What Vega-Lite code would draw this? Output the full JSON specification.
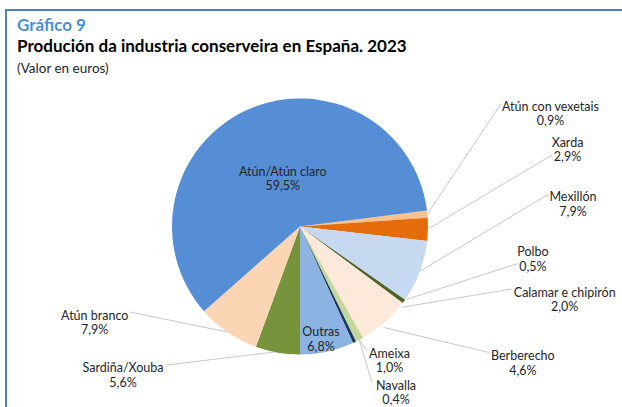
{
  "$schema": "https://vega.github.io/schema/vega-lite/v6.json",
  "autosize": {"type": "fit", "contains": "padding"},
  "width": 622,
  "height": 407,
  "padding": {"left": 6, "top": 10, "right": -2, "bottom": -2},
  "background": "white",
  "title": {
    "text": "Gráfico 9",
    "subtitle": "Produción da industria conserveira en España. 2023",
    "anchor": "start",
    "frame": "group",
    "orient": "top",
    "offset": -46,
    "dx": 11,
    "font": "Lato",
    "fontSize": 17,
    "fontWeight": "bold",
    "color": "#4a8fd6",
    "subtitleFont": "Lato",
    "subtitleFontSize": 17,
    "subtitleFontWeight": "bold",
    "subtitleColor": "#000000",
    "subtitlePadding": 4
  },
  "datasets": {
    "slices": [
      {"cat": "Atún con vexetais", "pct": 0.9, "i": 1},
      {"cat": "Xarda", "pct": 2.9, "i": 2},
      {"cat": "Mexillón", "pct": 7.9, "i": 3},
      {"cat": "Polbo", "pct": 0.5, "i": 4},
      {"cat": "Calamar e chipirón", "pct": 2.0, "i": 5},
      {"cat": "Berberecho", "pct": 4.6, "i": 6},
      {"cat": "Ameixa", "pct": 1.0, "i": 7},
      {"cat": "Navalla", "pct": 0.4, "i": 8},
      {"cat": "Outras", "pct": 6.8, "i": 9},
      {"cat": "Sardiña/Xouba", "pct": 5.6, "i": 10},
      {"cat": "Atún branco", "pct": 7.9, "i": 11},
      {"cat": "Atún/Atún claro", "pct": 59.5, "i": 12}
    ],
    "labels": [
      {"txt": "Atún/Atún claro\n59,5%", "lx": -13.5, "ly": 42.6},
      {"txt": "Outras\n6,8%", "lx": 16.4, "ly": -82.8},
      {"txt": "Ameixa\n1,0%", "lx": 69.9, "ly": -99.5},
      {"txt": "Navalla\n0,4%", "lx": 75.0, "ly": -124.6},
      {"txt": "Atún con vexetais\n0,9%", "lx": 195.7, "ly": 93.5},
      {"txt": "Xarda\n2,9%", "lx": 209.0, "ly": 65.6},
      {"txt": "Mexillón\n7,9%", "lx": 213.3, "ly": 22.7},
      {"txt": "Polbo\n0,5%", "lx": 182.0, "ly": -20.3},
      {"txt": "Calamar e chipirón\n2,0%", "lx": 206.8, "ly": -51.6},
      {"txt": "Berberecho\n4,6%", "lx": 174.1, "ly": -101.2},
      {"txt": "Atún branco\n7,9%", "lx": -160.4, "ly": -69.9},
      {"txt": "Sardiña/Xouba\n5,6%", "lx": -138.3, "ly": -110.8}
    ],
    "leaders": [
      {"cat": "Atún con vexetais", "x1": 100.0, "y1": 10.5, "x2": 157.0, "y2": 95.7},
      {"cat": "Xarda", "x1": 101.0, "y1": -1.4, "x2": 196.9, "y2": 55.9},
      {"cat": "Mexillón", "x1": 93.2, "y1": -35.3, "x2": 194.0, "y2": 25.2},
      {"cat": "Polbo", "x1": 83.4, "y1": -56.9, "x2": 170.5, "y2": -28.8},
      {"cat": "Calamar e chipirón", "x1": 79.5, "y1": -63.1, "x2": 165.4, "y2": -48.8},
      {"cat": "Berberecho", "x1": 65.1, "y1": -78.8, "x2": 148.4, "y2": -98.6},
      {"cat": "Ameixa", "x1": 46.3, "y1": -88.7, "x2": 52.6, "y2": -97.0},
      {"cat": "Navalla", "x1": 46.3, "y1": -88.7, "x2": 56.0, "y2": -121.3},
      {"cat": "Atún branco", "x1": -132.8, "y1": -66.8, "x2": -57.0, "y2": -82.4},
      {"cat": "Sardiña/Xouba", "x1": -103.9, "y1": -108.2, "x2": -19.5, "y2": -98.0}
    ],
    "notes": [
      {"txt": "(Valor en euros)", "nx": -221.1, "ny": 120.0}
    ]
  },
  "layer": [
    {
      "data": {"name": "leaders"},
      "mark": {"type": "rule", "color": "#c8c8c8", "strokeWidth": 1},
      "encoding": {
        "x": {"field": "x1", "type": "quantitative", "scale": {"domain": [-229.69, 253.13], "nice": false, "zero": false}, "axis": null},
        "y": {"field": "y1", "type": "quantitative", "scale": {"domain": [-142.58, 169.14], "nice": false, "zero": false}, "axis": null},
        "x2": {"field": "x2"},
        "y2": {"field": "y2"}
      }
    },
    {
      "data": {"name": "slices"},
      "mark": {"type": "arc", "radius": 128},
      "encoding": {
        "x": {"datum": 0, "type": "quantitative", "scale": {"domain": [-229.69, 253.13], "nice": false, "zero": false}, "axis": null},
        "y": {"datum": 0, "type": "quantitative", "scale": {"domain": [-142.58, 169.14], "nice": false, "zero": false}, "axis": null},
        "theta": {"field": "pct", "type": "quantitative", "stack": true, "scale": {"domain": [0, 100], "range": [1.4451, 7.7283]}},
        "order": {"field": "i", "type": "quantitative"},
        "color": {
          "field": "cat", "type": "nominal", "legend": null,
          "scale": {
            "domain": ["Atún con vexetais", "Xarda", "Mexillón", "Polbo", "Calamar e chipirón", "Berberecho", "Ameixa", "Navalla", "Outras", "Sardiña/Xouba", "Atún branco", "Atún/Atún claro"],
            "range": ["#fac090", "#e46c0a", "#c6d9f1", "#4f6228", "#fde9d9", "#fde9d9", "#c3d69b", "#17375e", "#8db3e2", "#77933c", "#fcd5b5", "#558ed5"]
          }
        }
      }
    },
    {
      "data": {"name": "labels"},
      "mark": {"type": "text", "font": "Lato", "fontSize": 12.5, "color": "#262626", "align": "center", "baseline": "middle", "lineBreak": "\n", "lineHeight": 14.5},
      "encoding": {
        "x": {"field": "lx", "type": "quantitative"},
        "y": {"field": "ly", "type": "quantitative"},
        "text": {"field": "txt", "type": "nominal"}
      }
    },
    {
      "data": {"name": "notes"},
      "mark": {"type": "text", "font": "Lato", "fontSize": 13.5, "color": "#262626", "align": "left", "baseline": "alphabetic"},
      "encoding": {
        "x": {"field": "nx", "type": "quantitative"},
        "y": {"field": "ny", "type": "quantitative"},
        "text": {"field": "txt", "type": "nominal"}
      }
    }
  ],
  "config": {
    "view": {"stroke": "#4f81bd", "strokeWidth": 2}
  }
}
